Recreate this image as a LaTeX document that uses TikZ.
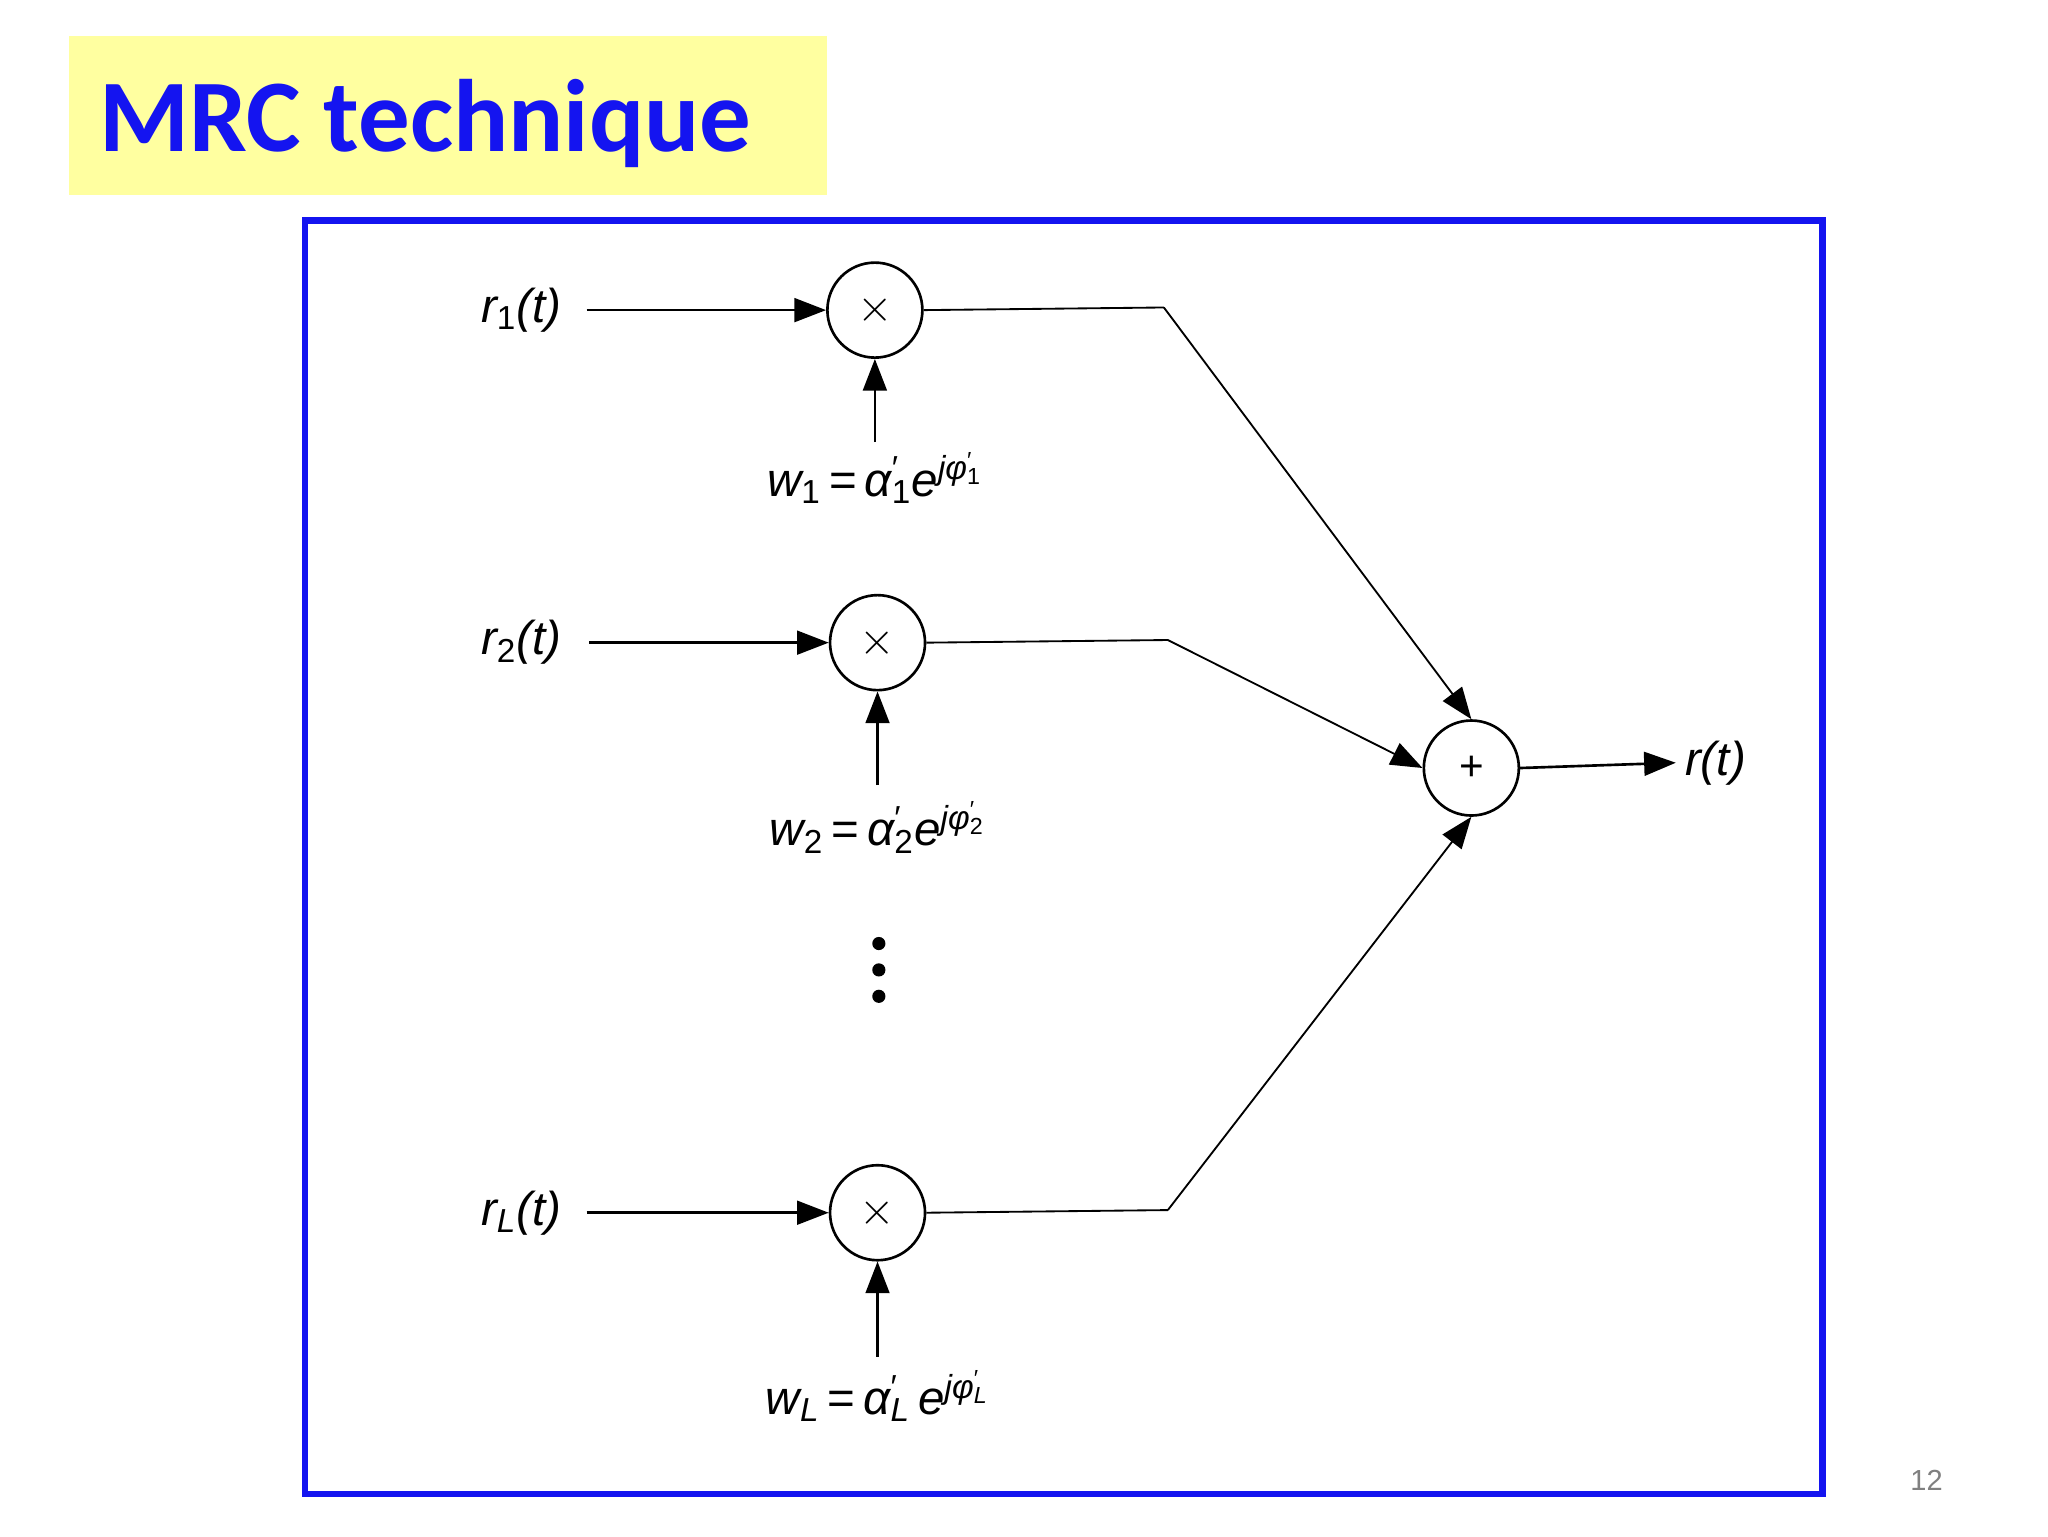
\documentclass[tikz,border=0pt]{standalone}
\usepackage{fontspec}
\setmainfont{Liberation Sans}
\newfontfamily\titlefont{Carlito}
\usetikzlibrary{arrows.meta}
\definecolor{ttl}{RGB}{20,20,240}
\definecolor{ylw}{RGB}{255,255,160}
\newcommand{\pr}[1]{\rlap{\textsuperscript{\upshape ′}}\textsubscript{#1}}
\begin{document}
\begin{tikzpicture}[x=0.5pt,y=-0.5pt,
  op/.style={circle,draw,line width=1pt,minimum size=36pt,inner sep=0pt,font=\fontsize{16}{16}\selectfont},
  lbl/.style={font=\fontsize{18}{20}\selectfont\itshape},
  arr/.style={line width=1pt,-{Triangle[length=12pt,width=9pt]}},
  ln/.style={line width=0.7pt}]
\useasboundingbox (0,0) rectangle (1552,1164);
\fill[white] (0,0) rectangle (1552,1164);
\fill[ylw] (52,27) rectangle (627,148);
\node[anchor=base west,text=ttl,font=\titlefont\bfseries\fontsize{39}{42}\selectfont] (title) at (68,115) {MRC technique};
\draw[ttl,line width=2.5pt] (231,167) rectangle (1381,1132);
\node[font=\fontsize{11}{12}\selectfont,text=gray] (pg) at (1460,1122) {12};
% multipliers
\node[op] (m1) at (663,235) {$\times$};
\node[op] (m2) at (665,487) {$\times$};
\node[op] (m3) at (665,919) {$\times$};
\node[op] (s) at (1115,582) {+};
% inputs
\node[lbl] (r1) at (395,235) {r\textsubscript{\upshape 1}(t)};
\node[lbl] (r2) at (395,487) {r\textsubscript{\upshape 2}(t)};
\node[lbl] (rL) at (395,919) {r\textsubscript{L}(t)};
\draw[arr] (r1.east)++(12,0) -- (m1);
\draw[arr] (r2.east)++(14,0) -- (m2);
\draw[arr] (rL.east)++(12,0) -- (m3);
% weights
\coordinate (c1) at (663,335);
\coordinate (c2) at (665,595);
\coordinate (c3) at (665,1028);
\draw[arr] (c1) -- (m1);
\draw[arr] (c2) -- (m2);
\draw[arr] (c3) -- (m3);
\node[lbl] (w1) at (663,362) {w\textsubscript{\upshape 1}\,{\upshape =}\,α\pr{\upshape 1}e\textsuperscript{jφ\pr{\upshape 1}}};
\node[lbl] (w2) at (665,627) {w\textsubscript{\upshape 2}\,{\upshape =}\,α\pr{\upshape 2}e\textsuperscript{jφ\pr{\upshape 2}}};
\node[lbl] (wL) at (665,1058) {w\textsubscript{L}\,{\upshape =}\,α\pr{L}\,e\textsuperscript{jφ\pr{L}}};
% combining lines
\coordinate (k1) at (882,233);
\coordinate (k2) at (885,485);
\coordinate (k3) at (885,917);
\draw[ln] (m1.east) -- (k1);
\draw[arr,line width=0.7pt] (k1) -- (s.north);
\draw[ln] (m2.east) -- (k2);
\draw[arr,line width=0.7pt] (k2) -- (s.west);
\draw[ln] (m3.east) -- (k3);
\draw[arr,line width=0.7pt] (k3) -- (s.south);
% output
\node[lbl] (out) at (1300,578) {r(t)};
\draw[arr] (s.east) -- (out.west);
% dots
\fill (666,715) circle (2.5pt);
\fill (666,735) circle (2.5pt);
\fill (666,755) circle (2.5pt);
\end{tikzpicture}
\end{document}
